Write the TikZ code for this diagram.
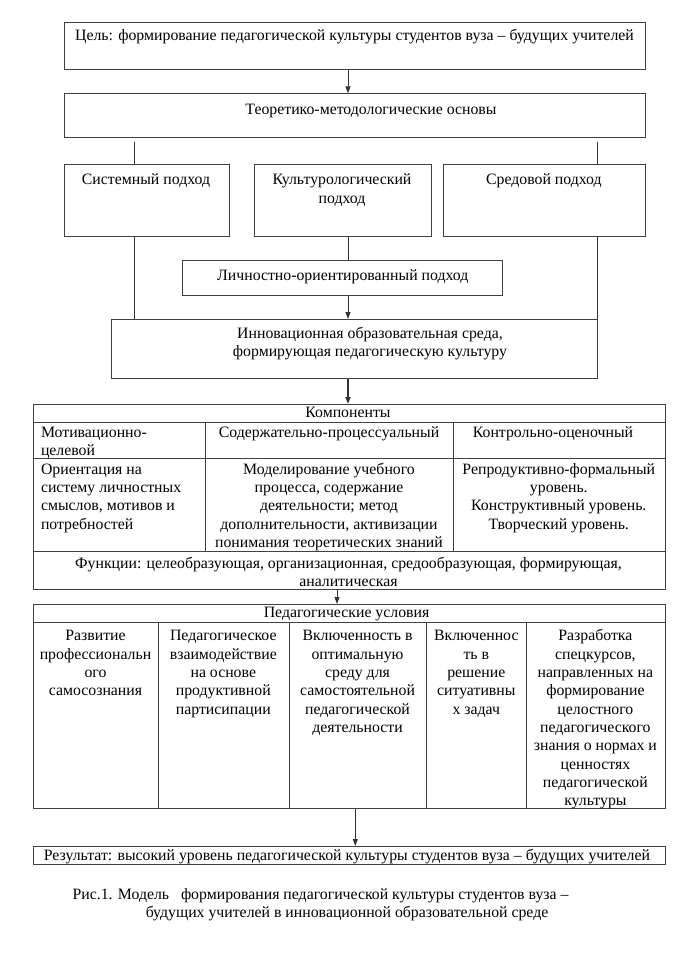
\documentclass[tikz,border=0pt]{standalone}
\usepackage{fontspec}
\setmainfont{Liberation Serif}
\usetikzlibrary{arrows.meta,calc}
\begin{document}
\begin{tikzpicture}[x=1pt,y=-1pt,
  box/.style={draw=black!75, line width=0.8pt, inner sep=0, anchor=north west},
  txt/.style={inner sep=0, anchor=north, align=center, font=\fontsize{15.8}{18.3}\selectfont},
  ltxt/.style={inner sep=0, anchor=north west, align=left, font=\fontsize{15.8}{18.3}\selectfont},
  conn/.style={draw=black!80, line width=0.8pt},
  arr/.style={conn, -{Triangle[length=7pt,width=5pt]}},
]
\useasboundingbox (0,0) rectangle (689,973);
% boxes
\node[box, minimum width=581.4pt, minimum height=47.6pt] (goal) at (63.6,21.7) {};
\node[box, minimum width=581.4pt, minimum height=43.4pt] (theo) at (63.6,93.3) {};
\node[box, minimum width=165.4pt, minimum height=72pt] (sys) at (63.6,164) {};
\node[box, minimum width=177.2pt, minimum height=72pt] (cult) at (253.5,164) {};
\node[box, minimum width=201.7pt, minimum height=72pt] (env) at (443,164) {};
\node[box, minimum width=320pt, minimum height=35pt] (pers) at (182,260) {};
\node[box, minimum width=486.4pt, minimum height=59.3pt] (innov) at (111,319) {};
% table 1
\node[box, minimum width=631.5pt, minimum height=17.7pt] (t1h) at (33,404) {};
\node[box, minimum width=172.3pt, minimum height=36.6pt] (t1a) at (33,421.7) {};
\node[box, minimum width=247.7pt, minimum height=36.6pt] (t1b) at (205.3,421.7) {};
\node[box, minimum width=211.5pt, minimum height=36.6pt] (t1c) at (453,421.7) {};
\node[box, minimum width=172.3pt, minimum height=92.7pt] (t1d) at (33,458.3) {};
\node[box, minimum width=247.7pt, minimum height=92.7pt] (t1e) at (205.3,458.3) {};
\node[box, minimum width=211.5pt, minimum height=92.7pt] (t1f) at (453,458.3) {};
\node[box, minimum width=631.5pt, minimum height=38pt] (t1g) at (33,551) {};
% table 2
\node[box, minimum width=631.5pt, minimum height=18.3pt] (t2h) at (33,604) {};
\node[box, minimum width=125pt, minimum height=186pt] (t2a) at (33,622.3) {};
\node[box, minimum width=130.6pt, minimum height=186pt] (t2b) at (158,622.3) {};
\node[box, minimum width=137.7pt, minimum height=186pt] (t2c) at (288.6,622.3) {};
\node[box, minimum width=100pt, minimum height=186pt] (t2d) at (426.3,622.3) {};
\node[box, minimum width=138.2pt, minimum height=186pt] (t2e) at (526.3,622.3) {};
% result
\node[box, minimum width=631.5pt, minimum height=18.3pt] (res) at (33,846) {};

% texts
\node[txt] (goalT) at (354.5,27.9) {\strut Цель: формирование педагогической культуры студентов вуза – будущих учителей};
\node[txt] (theoT) at (371,101.2) {\strut Теоретико-методологические основы};
\node[txt] (sysT) at (146,171.9) {\strut Системный подход};
\node[txt] (cultT) at (342,171.9) {\strut Культурологический\\подход};
\node[txt] (envT) at (543.9,171.9) {\strut Средовой подход};
\node[txt] (persT) at (342.8,267.2) {\strut Личностно-ориентированный подход};
\node[txt] (innovT) at (370,325.5) {\strut Инновационная образовательная среда,\\формирующая педагогическую культуру};
\node[txt] (t1hT) at (348,404.2) {\strut Компоненты};
\node[ltxt] (t1aT) at (40.8,424.5) {\strut Мотивационно-\\целевой};
\node[txt] (t1bT) at (329,424.5) {\strut Содержательно-процессуальный};
\node[txt] (t1cT) at (553,424.5) {\strut Контрольно-оценочный};
\node[ltxt] (t1dT) at (40.8,461.2) {\strut Ориентация на\\систему личностных\\смыслов, мотивов и\\потребностей};
\node[txt] (t1eT) at (329,461.2) {\strut Моделирование учебного\\процесса, содержание\\деятельности; метод\\дополнительности, активизации\\понимания теоретических знаний};
\node[txt] (t1fT) at (558.8,461.2) {\strut Репродуктивно-формальный\\уровень.\\Конструктивный уровень.\\Творческий уровень.};
\node[txt] (t1gT) at (348.5,555.2) {\strut Функции: целеобразующая, организационная, средообразующая, формирующая,\\аналитическая};
\node[txt] (t2hT) at (346.6,604.5) {\strut Педагогические условия};
\node[txt] (t2aT) at (95.5,627.9) {\strut Развитие\\профессиональн\\ого\\самосознания};
\node[txt] (t2bT) at (223.3,627.9) {\strut Педагогическое\\взаимодействие\\на основе\\продуктивной\\партисипации};
\node[txt] (t2cT) at (357.5,627.9) {\strut Включенность в\\оптимальную\\среду для\\самостоятельной\\педагогической\\деятельности};
\node[txt] (t2dT) at (476.3,627.9) {\strut Включеннос\\ть в\\решение\\ситуативны\\х задач};
\node[txt] (t2eT) at (595.4,627.9) {\strut Разработка\\спецкурсов,\\направленных на\\формирование\\целостного\\педагогического\\знания о нормах и\\ценностях\\педагогической\\культуры};
\node[txt] (resT) at (347,847.2) {\strut Результат: высокий уровень педагогической культуры студентов вуза – будущих учителей};
\node[ltxt] (cap1) at (72.4,886.2) {\strut Рис.1. Модель\ \ \ формирования педагогической культуры студентов вуза –};
\node[ltxt] (cap2) at (145.6,904.5) {\strut будущих учителей в инновационной образовательной среде};

% connectors
\coordinate (ax) at (348,0);
\coordinate (bx) at (337,0);
\coordinate (cx) at (355.3,0);
\coordinate (lx) at (134.6,141.7);
\coordinate (rx) at (597.4,141.7);
\draw[arr] (goal.south -| ax) -- (theo.north -| ax);
\draw[conn] (lx) -- (lx |- sys.north);
\draw[conn] (rx) -- (rx |- env.north);
\draw[conn] (sys.south -| lx) -- (innov.north -| lx);
\draw[conn] (env.south -| rx) -- (innov.north -| rx);
\draw[conn] (cult.south -| ax) -- (pers.north -| ax);
\draw[arr] (pers.south -| ax) -- (innov.north -| ax);
\draw[arr, line width=1.8pt] (innov.south -| ax) -- (t1h.north -| ax);
\draw[arr] (t1g.south -| bx) -- (t2h.north -| bx);
\draw[arr] (t2c.south -| cx) -- (res.north -| cx);
\end{tikzpicture}
\end{document}
